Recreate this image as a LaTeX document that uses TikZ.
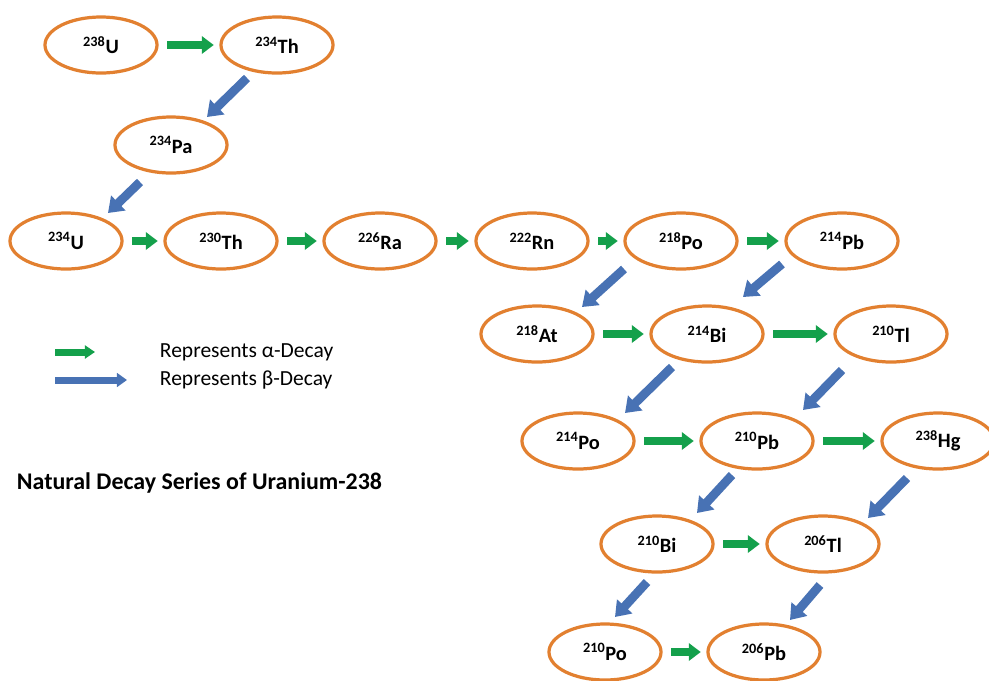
\documentclass[tikz,border=0pt]{standalone}
\usepackage{fontspec}
\setmainfont{Carlito}
\usepackage{tikz}
\usetikzlibrary{shapes,arrows.meta}
\definecolor{nucorange}{RGB}{226,128,48}
\definecolor{alphagreen}{RGB}{20,160,75}
\definecolor{betablue}{RGB}{72,114,180}
\newcommand{\nuc}[2]{\textsuperscript{#1}#2}

\begin{document}
\begin{tikzpicture}[x=0.025cm, y=-0.025cm,
  nucl/.style={ellipse, draw=nucorange, line width=2.3pt, minimum width=2.8cm, minimum height=1.4cm, inner sep=0pt, font=\fontsize{14.5}{17}\selectfont\bfseries},
  alphaarrow/.style={alphagreen, line width=0.2cm, -{Triangle[width=0.43cm,length=0.3cm]}, shorten <=0.22cm, shorten >=0.14cm},
  betaarrow/.style={betablue, line width=0.22cm, -{Triangle[width=0.5cm,length=0.36cm]}},
  legalpha/.style={alphagreen, line width=0.175cm, -{Triangle[width=0.32cm,length=0.25cm]}},
  legbeta/.style={betablue, line width=0.175cm, -{Triangle[width=0.34cm,length=0.25cm]}},
  legtext/.style={anchor=west, font=\fontsize{15.3}{18}\selectfont}]
\useasboundingbox (0,0) rectangle (989,680);

\node[nucl] (u238) at (101,45) {\nuc{238}{U}};
\node[nucl] (th234) at (277,45) {\nuc{234}{Th}};
\node[nucl] (pa234) at (171,145) {\nuc{234}{Pa}};
\node[nucl] (u234) at (66,241) {\nuc{234}{U}};
\node[nucl] (th230) at (221,241) {\nuc{230}{Th}};
\node[nucl] (ra226) at (380,241) {\nuc{226}{Ra}};
\node[nucl] (rn222) at (532,241) {\nuc{222}{Rn}};
\node[nucl] (po218) at (681,241) {\nuc{218}{Po}};
\node[nucl] (pb214) at (842,241) {\nuc{214}{Pb}};
\node[nucl] (at218) at (537,334) {\nuc{218}{At}};
\node[nucl] (bi214) at (707,334) {\nuc{214}{Bi}};
\node[nucl] (tl210) at (891,334) {\nuc{210}{Tl}};
\node[nucl] (po214) at (578,441) {\nuc{214}{Po}};
\node[nucl] (pb210) at (757,441) {\nuc{210}{Pb}};
\node[nucl] (hg238) at (938,441) {\nuc{238}{Hg}};
\node[nucl] (bi210) at (657,544) {\nuc{210}{Bi}};
\node[nucl] (tl206) at (823,544) {\nuc{206}{Tl}};
\node[nucl] (po210) at (605,652) {\nuc{210}{Po}};
\node[nucl] (pb206) at (764,652) {\nuc{206}{Pb}};

% alpha decays
\draw[alphaarrow] (u238.east) -- (th234.west);
\draw[alphaarrow] (u234.east) -- (th230.west);
\draw[alphaarrow] (th230.east) -- (ra226.west);
\draw[alphaarrow] (ra226.east) -- (rn222.west);
\draw[alphaarrow] (rn222.east) -- (po218.west);
\draw[alphaarrow] (po218.east) -- (pb214.west);
\draw[alphaarrow] (at218.east) -- (bi214.west);
\draw[alphaarrow] (bi214.east) -- (tl210.west);
\draw[alphaarrow] (po214.east) -- (pb210.west);
\draw[alphaarrow] (pb210.east) -- (hg238.west);
\draw[alphaarrow] (bi210.east) -- (tl206.west);
\draw[alphaarrow] (po210.east) -- (pb206.west);

% beta decays
\draw[betaarrow] ([shift={(-30,33)}]th234.center) -- ([shift={(36,-28)}]pa234.center);
\draw[betaarrow] ([shift={(-31,37)}]pa234.center) -- ([shift={(42,-28)}]u234.center);
\draw[betaarrow] ([shift={(-57,28)}]po218.center) -- ([shift={(45,-27)}]at218.center);
\draw[betaarrow] ([shift={(-60,23)}]pb214.center) -- ([shift={(36,-37)}]bi214.center);
\draw[betaarrow] ([shift={(-35,33)}]bi214.center) -- ([shift={(47,-28)}]po214.center);
\draw[betaarrow] ([shift={(-49,36)}]tl210.center) -- ([shift={(46,-31)}]pb210.center);
\draw[betaarrow] ([shift={(-25,34)}]pb210.center) -- ([shift={(40,-31)}]bi210.center);
\draw[betaarrow] ([shift={(-31,37)}]hg238.center) -- ([shift={(45,-26)}]tl206.center);
\draw[betaarrow] ([shift={(-10,38)}]bi210.center) -- ([shift={(10,-35)}]po210.center);
\draw[betaarrow] ([shift={(-3,41)}]tl206.center) -- ([shift={(26,-32)}]pb206.center);

% legend
\coordinate (legastart) at (55,352);
\coordinate (legaend) at (95,352);
\coordinate (legbstart) at (55,380);
\coordinate (legbend) at (127,380);
\draw[legalpha] (legastart) -- (legaend);
\draw[legbeta] (legbstart) -- (legbend);
\node[legtext] (legatext) at (155,352) {Represents α-Decay};
\node[legtext] (legbtext) at (155,380) {Represents β-Decay};

\node[anchor=west, font=\fontsize{17}{20}\selectfont\bfseries] (title) at (12,483) {Natural Decay Series of Uranium-238};
\end{tikzpicture}
\end{document}
